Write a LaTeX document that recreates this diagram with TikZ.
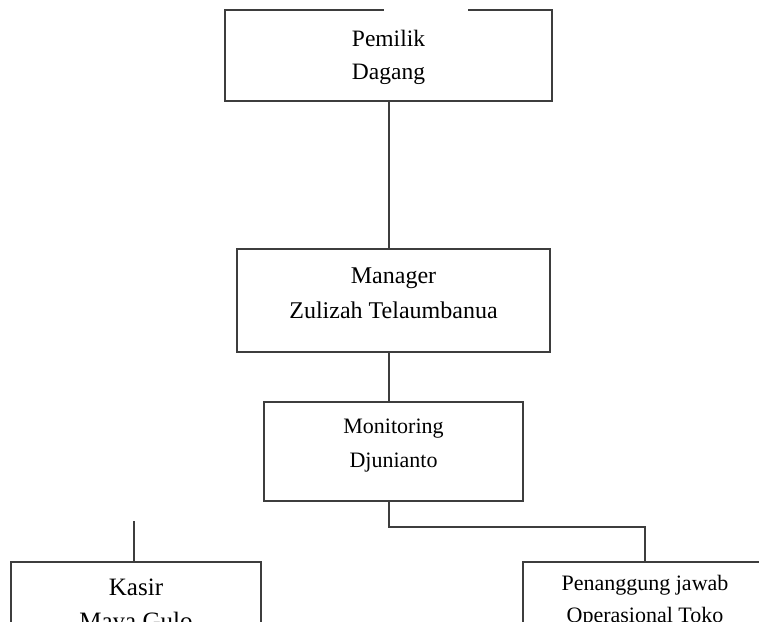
\documentclass[tikz,border=0pt]{standalone}
\usepackage{fontspec}
\setmainfont{Liberation Serif}
\usepackage{tikz}
\definecolor{garisabu}{rgb}{.24,.24,.24}
\tikzstyle{kotak}=[draw=garisabu,line width=1.3pt,rectangle,inner sep=0pt]
\tikzstyle{teks}=[align=center,anchor=base,inner sep=0pt]
\tikzstyle{garis}=[draw=garisabu,line width=1.3pt]

\begin{document}
\begin{tikzpicture}[x=1pt,y=-1pt]
        \useasboundingbox (0,0) rectangle (759,621);
        \clip (0,0) rectangle (759,621);

        % kotak-kotak
        \node[kotak,minimum width=327pt,minimum height=91pt] (pemilik) at (388.5,55.5) {};
        \node[kotak,minimum width=313pt,minimum height=103pt] (manager) at (393.5,300.5) {};
        \node[kotak,minimum width=259pt,minimum height=99pt] (monitoring) at (393.5,451.5) {};
        \node[kotak,minimum width=250pt,minimum height=110pt] (kasir) at (136,617) {};
        \node[kotak,minimum width=244pt,minimum height=110pt] (penanggung) at (645,617) {};

        % celah di garis atas
        \draw[white,line width=3pt] (384,10) -- (468,10);

        % tulisan (titik = garis dasar baris kedua)
        \node[teks,font=\fontsize{23.5}{33}\selectfont] (pemilikT) at (388.5,79) {Pemilik\\Dagang};
        \node[teks,font=\fontsize{24}{35}\selectfont] (managerT) at (393.5,318) {Manager\\Zulizah Telaumbanua};
        \node[teks,font=\fontsize{22}{34}\selectfont] (monitoringT) at (393.5,467) {Monitoring\\Djunianto};
        \node[teks,font=\fontsize{25}{34}\selectfont] (kasirT) at (136,629) {Kasir\\Maya Gulo};
        \node[teks,font=\fontsize{22}{32}\selectfont] (penanggungT) at (645,622) {Penanggung jawab\\Operasional Toko};

        % garis penghubung
        \coordinate (cabang) at (389,527);
        \coordinate (kasirAtas) at (134,521);
        \draw[garis] (pemilik.south -| cabang) -- (manager.north -| cabang);
        \draw[garis] (manager.south -| cabang) -- (monitoring.north -| cabang);
        \draw[garis] (monitoring.south -| cabang) -- (cabang) -| (penanggung.north);
        \draw[garis] (kasirAtas) -- (kasirAtas |- kasir.north);

      \end{tikzpicture}
\end{document}
